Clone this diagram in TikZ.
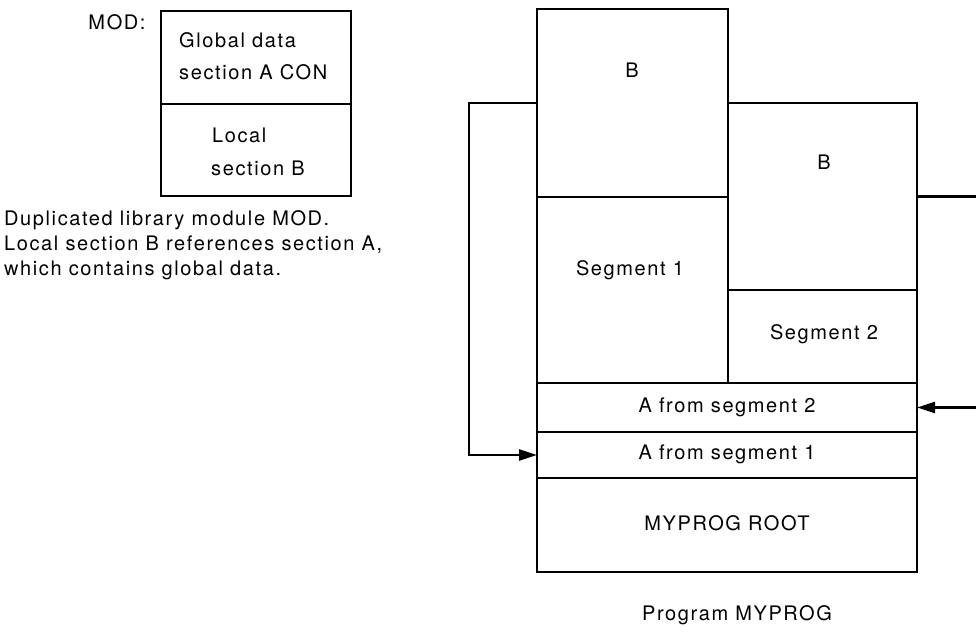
\documentclass[tikz,border=0pt]{standalone}
\usepackage{fontspec}
\setmainfont{TeX Gyre Heros}[LetterSpace=8]
\usetikzlibrary{arrows.meta}
\begin{document}
\begin{tikzpicture}[x=1pt,y=-1pt,
  box/.style={draw, line width=2.6pt, rectangle, inner sep=0pt, outer sep=0pt, anchor=north west},
  lbl/.style={font=\fontsize{20}{24}\selectfont, inner sep=0pt},
  conn/.style={line width=2.4pt},
  tip/.style={-{Triangle[length=18pt,width=11pt]}}]
\useasboundingbox (0,0) rectangle (976,634);
\clip (0,0) rectangle (976,634);
% library module MOD
\node[box, minimum width=190pt, minimum height=93pt] (modA) at (161,11) {};
\node[box, minimum width=190pt, minimum height=92pt] (modB) at (161,104) {};
\node[lbl] (modlbl) at (117,22) {MOD:};
\node[lbl, anchor=west] (gd1) at (179,40) {Global data};
\node[lbl, anchor=west] (gd2) at (179,72) {section A CON};
\node[lbl, anchor=west] (ls1) at (212,135) {Local};
\node[lbl, anchor=west] (ls2) at (211,168) {section B};
\node[lbl, anchor=west] (cap1) at (4,220) {Duplicated library module MOD.};
\node[lbl, anchor=west] (cap2) at (4,245) {Local section B references section A,};
\node[lbl, anchor=west] (cap3) at (4,270) {which contains global data.};
% program MYPROG
\node[box, minimum width=191pt, minimum height=188pt] (b1) at (537,9) {};
\node[box, minimum width=191pt, minimum height=186pt] (s1) at (537,197) {};
\node[box, minimum width=189pt, minimum height=187pt] (b2) at (728,103) {};
\node[box, minimum width=189pt, minimum height=93pt] (s2) at (728,290) {};
\node[box, minimum width=380pt, minimum height=49pt] (a2) at (537,383) {};
\node[box, minimum width=380pt, minimum height=46pt] (a1) at (537,432) {};
\node[box, minimum width=380pt, minimum height=94pt] (root) at (537,478) {};
\node[lbl] (b1t) at (632,70) {B};
\node[lbl] (b2t) at (824,162) {B};
\node[lbl] (s1t) at (630,270) {Segment 1};
\node[lbl] (s2t) at (824,334) {Segment 2};
\node[lbl] (a2t) at (727,407) {A from segment 2};
\node[lbl] (a1t) at (727,454) {A from segment 1};
\node[lbl] (roott) at (727,523) {MYPROG ROOT};
\node[lbl] (progt) at (737,615) {Program MYPROG};
% connectors
\coordinate (lout) at (469,0);
\coordinate (rout) at (995,0);
\draw[conn,tip] (b1.west) -- (b1.west -| lout) |- (a1.west);
\draw[conn,tip] (b2.east) -- (b2.east -| rout) |- (a2.east);
\end{tikzpicture}
\end{document}
